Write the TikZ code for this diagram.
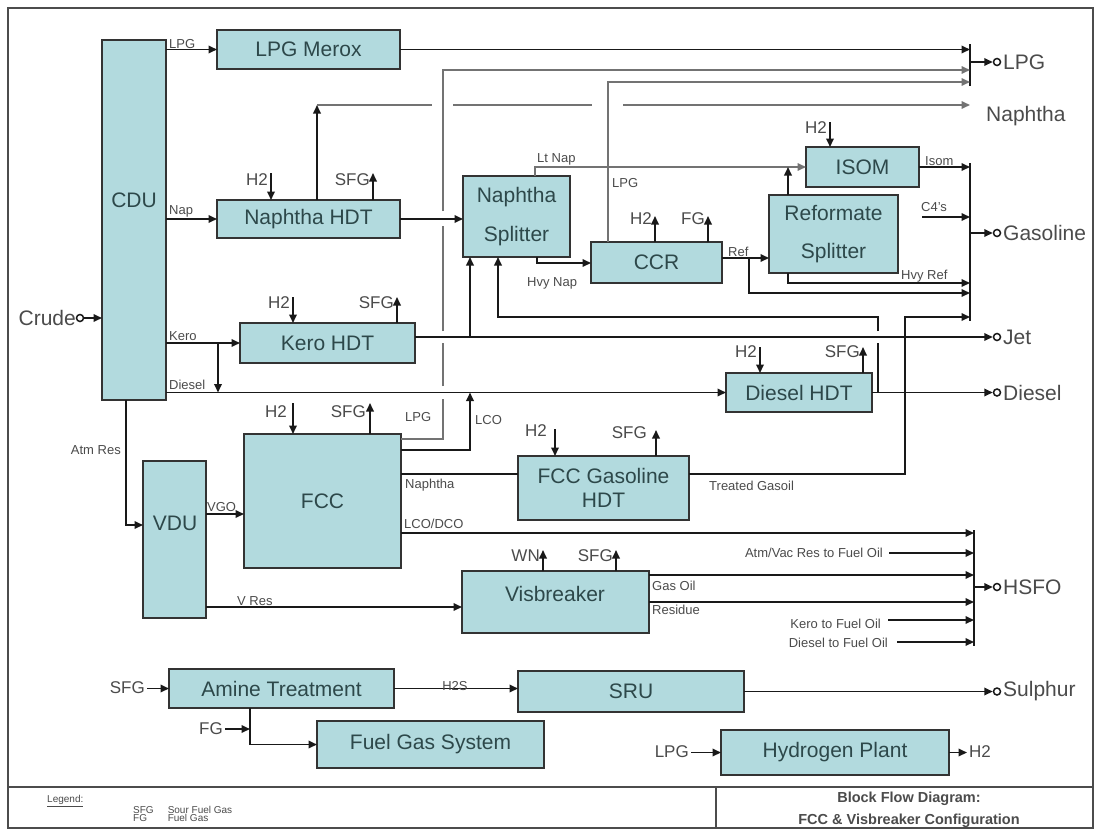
\documentclass[tikz,border=0pt]{standalone}
\usepackage{fontspec}
\setmainfont{Liberation Sans}
\usetikzlibrary{arrows.meta}
\definecolor{boxfill}{RGB}{178,218,222}
\definecolor{boxtext}{RGB}{45,72,74}
\definecolor{lbl}{RGB}{75,75,75}
\newcommand\blk[6]{\node[box, minimum width=#4pt, minimum height=#5pt] (#1) at (#2,#3) {#6};}
\begin{document}
\begin{tikzpicture}[x=1pt,y=-1pt,
  box/.style={draw=black!80, line width=1.7pt, fill=boxfill, text=boxtext, inner sep=0pt, outer sep=0pt, anchor=north west, align=center, font=\fontsize{21}{24}\selectfont},
  boxlab/.style={text=boxtext, font=\fontsize{21}{24}\selectfont, inner sep=0pt},
  ln/.style={line width=1.8pt, draw=black!90},
  gl/.style={line width=1.6pt, draw=black!55},
  arr/.style={-{Triangle[length=8.5pt,width=7.5pt]}},
  term/.style={circle, draw=black!90, line width=1.5pt, fill=white, minimum size=7pt, inner sep=0pt},
  sm/.style={text=lbl, font=\fontsize{13}{15}\selectfont, inner sep=1pt},
  md/.style={text=lbl, font=\fontsize{17}{19}\selectfont, inner sep=1pt},
  pr/.style={text=lbl, font=\fontsize{21}{24}\selectfont, inner sep=0pt, anchor=west},
]
\useasboundingbox (0,0) rectangle (1097,830);
\fill[white] (0,0) rectangle (1097,830);
% frame
\draw[line width=1.6pt, black!70] (8,8) rectangle (1093,828);
\draw[line width=1.6pt, black!70] (8,787) -- (1093,787);
\draw[line width=1.6pt, black!70] (716,787) -- (716,828);
\node[anchor=west, text=lbl, font=\fontsize{10}{11}\selectfont, inner sep=0pt] (leg) at (47,801) {\underline{Legend:}};
\node[anchor=north west, text=lbl, font=\fontsize{10}{11}\selectfont, inner sep=0pt] (legt) at (133,806)
  {\begin{tabular}{@{}l@{\hspace{14pt}}l@{}}SFG & Sour Fuel Gas\\[-3pt] FG & Fuel Gas\end{tabular}};
\node[text=lbl, font=\bfseries\fontsize{14.5}{16}\selectfont] (t1) at (909,799) {Block Flow Diagram:};
\node[text=lbl, font=\bfseries\fontsize{14.5}{16}\selectfont] (t2) at (909,821) {FCC \& Visbreaker Configuration};

% boxes
\blk{cdu}{102}{40}{64}{360}{}
\node[boxlab] (cdut) at (134,200) {CDU};
\blk{lpgm}{217}{30}{183}{39}{LPG Merox}
\blk{nhdt}{217}{200}{183}{38}{Naphtha HDT}
\blk{khdt}{240}{323}{175}{40}{Kero HDT}
\blk{vdu}{143}{461}{63}{157}{}
\node[boxlab] (vdut) at (175,523) {VDU};
\blk{fcc}{244}{434}{157}{134}{FCC}
\blk{nspl}{463}{176}{107}{81}{Naphtha\\[15pt]Splitter}
\blk{ccr}{591}{242}{131}{41}{CCR}
\blk{isom}{806}{147}{113}{40}{ISOM}
\blk{rspl}{769}{195}{129}{78}{Reformate\\[14pt]Splitter}
\blk{dhdt}{726}{373}{146}{39}{Diesel HDT}
\blk{fgh}{518}{456}{171}{64}{FCC Gasoline\\HDT}
\blk{visb}{462}{571}{187}{62}{}
\node[boxlab] (visbt) at (555,594) {Visbreaker};
\blk{amine}{169}{669}{225}{39}{Amine Treatment}
\blk{sru}{518}{671}{226}{41}{SRU}
\blk{fgs}{317}{721}{227}{47}{Fuel Gas System}
\blk{h2p}{721}{730}{228}{45}{Hydrogen Plant}

% product terminals
\node[term] (tlpg) at (997,62) {};
\node[pr] (plpg) at (1003,62) {LPG};
\node[pr] (pnap) at (986,116) {Naphtha};
\node[term] (tgas) at (997,233) {};
\node[pr] (pgas) at (1003,233) {Gasoline};
\node[term] (tjet) at (997,337) {};
\node[pr] (pjet) at (1003,337) {Jet};
\node[term] (tdsl) at (997,392.5) {};
\node[pr] (pdsl) at (1003,392.5) {Diesel};
\node[term] (thsfo) at (997,587) {};
\node[pr] (phsfo) at (1003,587) {HSFO};
\node[term] (tsul) at (997,691.5) {};
\node[pr] (psul) at (1003,691.5) {Sulphur};

% buses
\coordinate (lpgbus) at (970,62);
\coordinate (gasbus) at (970,233);
\coordinate (hsbus) at (974,587);
\draw[ln] (970,44) -- (970,86);
\draw[ln,arr] (lpgbus) -- (tlpg.west);
\draw[ln] (970,163) -- (970,321);
\draw[ln,arr] (gasbus) -- (tgas.west);
\draw[ln] (974,530) -- (974,646);
\draw[ln,arr] (hsbus) -- (thsfo.west);

% crude and CDU
\node[term] (tcrude) at (80,318) {};
\node[pr, anchor=east] (pcrude) at (76,318) {Crude};
\draw[ln,arr] (tcrude.east) -- (tcrude -| cdu.west);
\draw[ln,arr] (cdu.east |- lpgm.west) -- (lpgm.west);
\node[sm, anchor=south west] (l1) at (168,50) {LPG};
\draw[ln,arr] (cdu.east |- nhdt.west) -- (nhdt.west);
\node[sm, anchor=south west] (l2) at (168,218) {Nap};
\draw[ln,arr] (cdu.east |- khdt.west) -- (khdt.west);
\node[sm, anchor=south west] (l3) at (168,342) {Kero};
\draw[ln,arr] (cdu.east |- dhdt.west) -- (dhdt.west);
\node[sm, anchor=south west] (l4) at (168,391) {Diesel};
\coordinate (kb) at (218,343);
\draw[ln,arr] (kb) -- (kb |- dhdt.west);
\coordinate (atm) at (126,525);
\draw[ln,arr] (atm |- cdu.south) -- (atm) -- (atm -| vdu.west);
\node[sm, anchor=east] (l5) at (122,450) {Atm Res};
\coordinate (vgo) at (206,514);
\draw[ln,arr] (vgo) -- (vgo -| fcc.west);
\node[sm, anchor=south west] (l6) at (206,513) {VGO};
\coordinate (vres) at (206,607);
\draw[ln,arr] (vres) -- (vres -| visb.west);
\node[sm, anchor=south west] (l7) at (236,607) {V Res};

% LPG Merox
\draw[ln,arr] (lpgm.east) -- (lpgm.east -| lpgbus);

% Naphtha HDT
\coordinate (nh2) at (271,173);
\draw[ln,arr] (nh2) -- (nh2 |- nhdt.north);
\node[md, anchor=east] (l8) at (269,180) {H2};
\coordinate (nsfg) at (373,173);
\draw[ln,arr] (nsfg |- nhdt.north) -- (nsfg);
\node[md, anchor=east] (l9) at (371,180) {SFG};
\coordinate (nap1) at (317,105);
\draw[ln,arr] (nap1 |- nhdt.north) -- (nap1);
\coordinate (napend) at (970,105);
\draw[gl] (nap1) -- (432,105);
\draw[gl] (453,105) -- (592,105);
\draw[gl,arr] (623,105) -- (napend);
\draw[ln,arr] (nhdt.east) -- (nhdt.east -| nspl.west);

% Kero HDT
\coordinate (kh2) at (293,297);
\draw[ln,arr] (kh2) -- (kh2 |- khdt.north);
\node[md, anchor=east] (l10) at (291,303) {H2};
\coordinate (ksfg) at (397,297);
\draw[ln,arr] (ksfg |- khdt.north) -- (ksfg);
\node[md, anchor=east] (l11) at (395,303) {SFG};
\draw[ln,arr] (khdt.east |- tjet) -- (tjet.west);
\coordinate (kup) at (470,337);
\draw[ln,arr] (kup) -- (kup |- nspl.south);

% Diesel HDT
\coordinate (dh2) at (760,347);
\draw[ln,arr] (dh2) -- (dh2 |- dhdt.north);
\node[md, anchor=east] (l12) at (758,352) {H2};
\coordinate (dsfg) at (863,347);
\draw[ln,arr] (dsfg |- dhdt.north) -- (dsfg);
\node[md, anchor=east] (l13) at (861,352) {SFG};
\draw[ln,arr] (dhdt.east) -- (tdsl.west);
\coordinate (rc1) at (878,392.5);
\coordinate (rc2) at (878,317);
\coordinate (rc3) at (498,317);
\draw[ln] (rc1) -- (878,343);
\draw[ln,arr] (878,331) -- (rc2) -- (rc3) -- (rc3 |- nspl.south);

% FCC
\coordinate (fh2) at (293,403);
\draw[ln,arr] (fh2) -- (fh2 |- fcc.north);
\node[md, anchor=east] (l14) at (288,412) {H2};
\coordinate (fsfg) at (370,403);
\draw[ln,arr] (fsfg |- fcc.north) -- (fsfg);
\node[md, anchor=east] (l15) at (367,412) {SFG};
\coordinate (flpg) at (443,439);
\draw[gl] (fcc.east |- flpg) -- (flpg) -- (443,399);
\draw[gl] (443,386) -- (443,343);
\draw[gl] (443,331) -- (443,226);
\draw[gl,arr] (443,211) -- (443,70) -- (970,70);
\node[sm, anchor=west] (l16) at (404,417) {LPG};
\coordinate (lco) at (470,450);
\draw[ln,arr] (fcc.east |- lco) -- (lco) -- (lco |- dhdt.west);
\node[sm, anchor=west] (l17) at (474,420) {LCO};
\coordinate (fnap) at (401,474);
\draw[ln] (fcc.east |- fnap) -- (fnap -| fgh.west);
\node[sm, anchor=west] (l18) at (404,485) {Naphtha};
\coordinate (hs1) at (974,533);
\draw[ln,arr] (fcc.east |- hs1) -- (hs1);
\node[sm, anchor=west] (l19) at (403,524) {LCO/DCO};

% FCC Gasoline HDT
\coordinate (gh2) at (555,429);
\draw[ln,arr] (gh2) -- (gh2 |- fgh.north);
\node[md, anchor=east] (l20) at (548,431) {H2};
\coordinate (gsfg) at (656,430);
\draw[ln,arr] (gsfg |- fgh.north) -- (gsfg);
\node[md, anchor=east] (l21) at (648,433) {SFG};
\coordinate (tg1) at (905,474);
\coordinate (tg2) at (905,317);
\draw[ln,arr] (fgh.east |- tg1) -- (tg1) -- (tg2) -- (tg2 -| gasbus);
\node[sm, anchor=west] (l22) at (708,486) {Treated Gasoil};

% Naphtha Splitter
\coordinate (lt1) at (535,167);
\draw[gl,arr] (lt1 |- nspl.north) -- (lt1) -- (isom.west);
\node[sm, anchor=south west] (l23) at (536,166) {Lt Nap};
\coordinate (hv1) at (537,263);
\draw[ln,arr] (hv1 |- nspl.south) -- (hv1) -- (hv1 -| ccr.west);
\node[sm, anchor=west] (l24) at (526,283) {Hvy Nap};

% CCR
\coordinate (cl1) at (608,82);
\draw[gl,arr] (cl1 |- ccr.north) -- (cl1) -- (cl1 -| lpgbus);
\node[sm, anchor=west] (l25) at (611,183) {LPG};
\coordinate (ch2) at (655,216);
\draw[ln,arr] (ch2 |- ccr.north) -- (ch2);
\node[md, anchor=east] (l26) at (653,219) {H2};
\coordinate (cfg) at (708,216);
\draw[ln,arr] (cfg |- ccr.north) -- (cfg);
\node[md, anchor=east] (l27) at (706,219) {FG};
\coordinate (rf1) at (749,258);
\draw[ln,arr] (ccr.east |- rf1) -- (rf1 -| rspl.west);
\node[sm, anchor=south west] (l28) at (727,258) {Ref};
\draw[ln,arr] (rf1) -- (749,293) -- (970,293);

% Reformate Splitter / ISOM
\coordinate (rs1) at (788,167);
\draw[ln,arr] (rs1 |- rspl.north) -- (rs1);
\coordinate (rs2) at (788,283);
\draw[ln,arr] (rs2 |- rspl.south) -- (rs2) -- (rs2 -| gasbus);
\node[sm, anchor=south west] (l29) at (900,283) {Hvy Ref};
\coordinate (ih2) at (830,122);
\draw[ln,arr] (ih2) -- (ih2 |- isom.north);
\node[md, anchor=east] (l30) at (828,128) {H2};
\draw[ln,arr] (isom.east) -- (isom.east -| gasbus);
\node[sm, anchor=south west] (l31) at (924,167) {Isom};
\coordinate (c4) at (922,217);
\draw[ln,arr] (c4) -- (c4 -| gasbus);
\node[sm, anchor=south west] (l32) at (920,213) {C4's};

% Visbreaker
\coordinate (wn) at (543,550);
\draw[ln,arr] (wn |- visb.north) -- (wn);
\node[md, anchor=east] (l33) at (541,556) {WN};
\coordinate (vsfg) at (616,550);
\draw[ln,arr] (vsfg |- visb.north) -- (vsfg);
\node[md, anchor=east] (l34) at (614,556) {SFG};
\coordinate (hs3) at (974,575);
\draw[ln,arr] (visb.east |- hs3) -- (hs3);
\node[sm, anchor=west] (l35) at (651,586) {Gas Oil};
\coordinate (hs4) at (974,602);
\draw[ln,arr] (visb.east |- hs4) -- (hs4);
\node[sm, anchor=west] (l36) at (651,610) {Residue};
\coordinate (hs2) at (974,553);
\draw[ln,arr] (889,553) -- (hs2);
\node[sm, anchor=east] (l37) at (884,553) {Atm/Vac Res to Fuel Oil};
\coordinate (hs5) at (974,620);
\draw[ln,arr] (888,620) -- (hs5);
\node[sm, anchor=east] (l38) at (882,624) {Kero to Fuel Oil};
\coordinate (hs6) at (974,642);
\draw[ln,arr] (897,642) -- (hs6);
\node[sm, anchor=east] (l39) at (889,643) {Diesel to Fuel Oil};

% Amine / SRU / FGS
\coordinate (asfg) at (147,688.5);
\draw[ln,arr] (asfg) -- (amine.west);
\node[md, anchor=east] (l40) at (146,688) {SFG};
\draw[ln,arr] (amine.east) -- (amine.east -| sru.west);
\node[sm, anchor=south] (l41) at (455,692) {H2S};
\coordinate (am) at (250,742);
\draw[ln,arr] (am |- amine.south) -- (am |- fgs.west) -- (fgs.west);
\coordinate (afg) at (225,729);
\draw[ln,arr] (afg) -- (afg -| am);
\node[md, anchor=east] (l42) at (224,729) {FG};
\draw[ln,arr] (sru.east) -- (tsul.west);

% Hydrogen plant
\coordinate (hlpg) at (691,752.5);
\draw[ln,arr] (hlpg) -- (h2p.west);
\node[md, anchor=east] (l43) at (690,752) {LPG};
\coordinate (hout) at (967,752.5);
\draw[ln,arr] (h2p.east) -- (hout);
\node[md, anchor=west] (l44) at (968,752) {H2};
\end{tikzpicture}
\end{document}
